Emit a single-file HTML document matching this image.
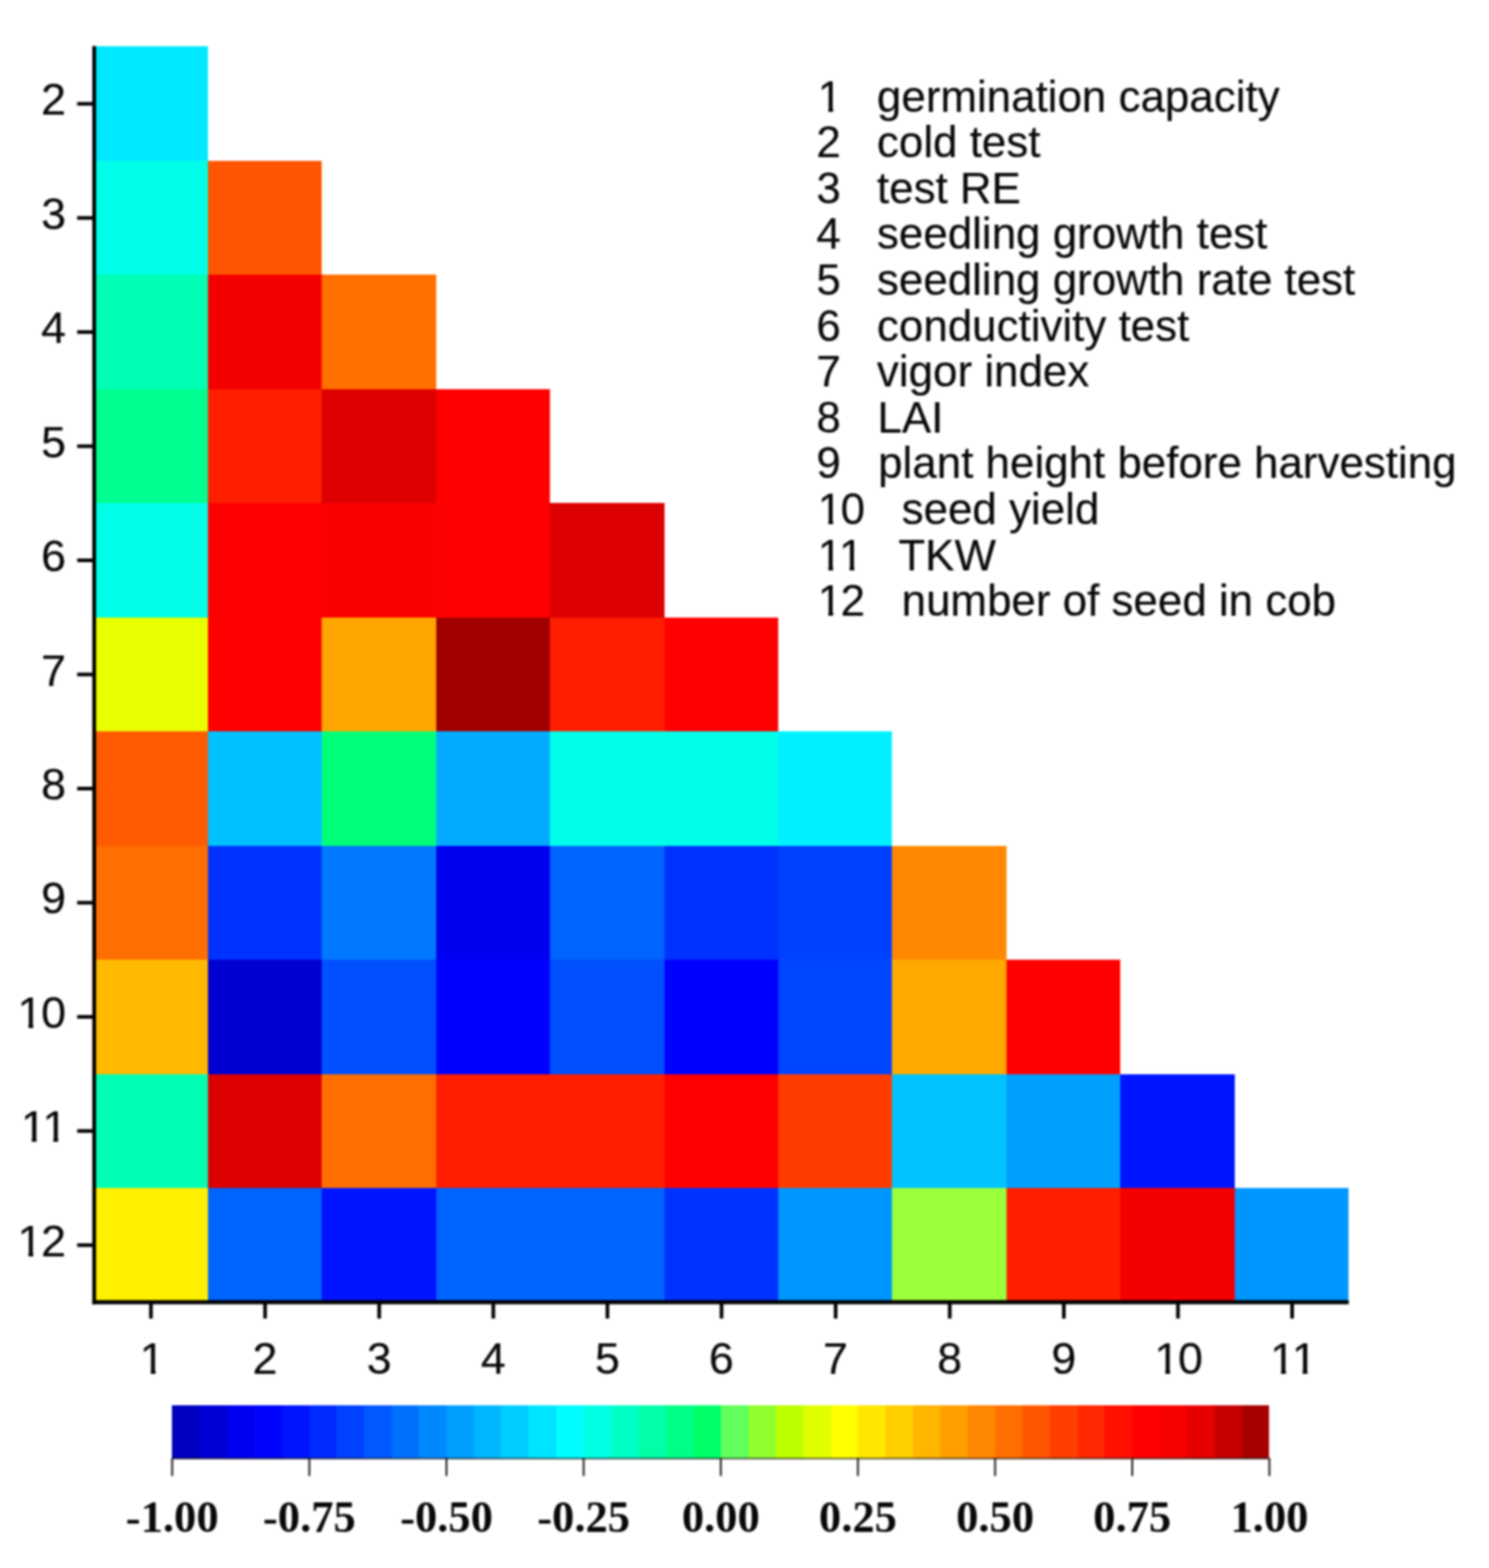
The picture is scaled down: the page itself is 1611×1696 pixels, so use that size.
<!DOCTYPE html>
<html lang="en">
<head>
<meta charset="utf-8">
<title>Correlation heat map</title>
<style>
html,body{margin:0;padding:0;background:#fff;}
body{width:1611px;height:1696px;overflow:hidden;}
svg{display:block;position:absolute;left:0;top:0;filter:blur(1px);}
text{font-family:"Liberation Sans",sans-serif;fill:#080808;stroke:#080808;stroke-width:0.2px;stroke-linejoin:round;}
.t{font-size:48.4px;}
.l{font-size:47.5px;}
.c{font-family:"Liberation Serif",serif;font-weight:bold;font-size:48.2px;stroke-width:0px;}
</style>
</head>
<body>
<svg width="1611" height="1696" viewBox="0 0 1611 1696">
<rect x="0" y="0" width="1611" height="1696" fill="#ffffff"/>
<g shape-rendering="crispEdges">
<rect x="101.2" y="49.8" width="123.46" height="124.8" fill="#00E8FF"/>
<rect x="101.2" y="174" width="124.06" height="124.05" fill="#00FFE8"/>
<rect x="224.66" y="174" width="123.46" height="124.05" fill="#FF5500"/>
<rect x="101.2" y="297.45" width="124.06" height="124.05" fill="#00FFB4"/>
<rect x="224.66" y="297.45" width="124.06" height="124.05" fill="#F50000"/>
<rect x="348.13" y="297.45" width="123.46" height="124.05" fill="#FF7000"/>
<rect x="101.2" y="420.9" width="124.06" height="124.05" fill="#00FF90"/>
<rect x="224.66" y="420.9" width="124.06" height="124.05" fill="#FF1E00"/>
<rect x="348.13" y="420.9" width="124.06" height="124.05" fill="#DC0000"/>
<rect x="471.59" y="420.9" width="123.46" height="124.05" fill="#FF0000"/>
<rect x="101.2" y="544.35" width="124.06" height="124.05" fill="#00FFE8"/>
<rect x="224.66" y="544.35" width="124.06" height="124.05" fill="#FF0000"/>
<rect x="348.13" y="544.35" width="124.06" height="124.05" fill="#FA0000"/>
<rect x="471.59" y="544.35" width="124.06" height="124.05" fill="#FF0000"/>
<rect x="595.05" y="544.35" width="123.46" height="124.05" fill="#DC0000"/>
<rect x="101.2" y="667.8" width="124.06" height="124.05" fill="#E8FF00"/>
<rect x="224.66" y="667.8" width="124.06" height="124.05" fill="#FF0000"/>
<rect x="348.13" y="667.8" width="124.06" height="124.05" fill="#FFA500"/>
<rect x="471.59" y="667.8" width="124.06" height="124.05" fill="#A00000"/>
<rect x="595.05" y="667.8" width="124.06" height="124.05" fill="#FF1E00"/>
<rect x="718.52" y="667.8" width="123.46" height="124.05" fill="#FF0000"/>
<rect x="101.2" y="791.25" width="124.06" height="124.05" fill="#FF5A00"/>
<rect x="224.66" y="791.25" width="124.06" height="124.05" fill="#00C0FF"/>
<rect x="348.13" y="791.25" width="124.06" height="124.05" fill="#00FF78"/>
<rect x="471.59" y="791.25" width="124.06" height="124.05" fill="#00AAFF"/>
<rect x="595.05" y="791.25" width="124.06" height="124.05" fill="#00FFE8"/>
<rect x="718.52" y="791.25" width="124.06" height="124.05" fill="#00FFE8"/>
<rect x="841.98" y="791.25" width="123.46" height="124.05" fill="#00F0FF"/>
<rect x="101.2" y="914.7" width="124.06" height="124.05" fill="#FF6E00"/>
<rect x="224.66" y="914.7" width="124.06" height="124.05" fill="#0032FF"/>
<rect x="348.13" y="914.7" width="124.06" height="124.05" fill="#0078FF"/>
<rect x="471.59" y="914.7" width="124.06" height="124.05" fill="#0000F0"/>
<rect x="595.05" y="914.7" width="124.06" height="124.05" fill="#0064FF"/>
<rect x="718.52" y="914.7" width="124.06" height="124.05" fill="#0032FF"/>
<rect x="841.98" y="914.7" width="124.06" height="124.05" fill="#0040FF"/>
<rect x="965.45" y="914.7" width="123.46" height="124.05" fill="#FF8800"/>
<rect x="101.2" y="1038.15" width="124.06" height="124.05" fill="#FFB900"/>
<rect x="224.66" y="1038.15" width="124.06" height="124.05" fill="#0000D2"/>
<rect x="348.13" y="1038.15" width="124.06" height="124.05" fill="#0050FF"/>
<rect x="471.59" y="1038.15" width="124.06" height="124.05" fill="#0000FF"/>
<rect x="595.05" y="1038.15" width="124.06" height="124.05" fill="#0050FF"/>
<rect x="718.52" y="1038.15" width="124.06" height="124.05" fill="#0000FF"/>
<rect x="841.98" y="1038.15" width="124.06" height="124.05" fill="#0046FF"/>
<rect x="965.45" y="1038.15" width="124.06" height="124.05" fill="#FFA800"/>
<rect x="1088.91" y="1038.15" width="123.46" height="124.05" fill="#FF0000"/>
<rect x="101.2" y="1161.6" width="124.06" height="124.05" fill="#00FFB4"/>
<rect x="224.66" y="1161.6" width="124.06" height="124.05" fill="#DC0000"/>
<rect x="348.13" y="1161.6" width="124.06" height="124.05" fill="#FF6E00"/>
<rect x="471.59" y="1161.6" width="124.06" height="124.05" fill="#FF1E00"/>
<rect x="595.05" y="1161.6" width="124.06" height="124.05" fill="#FF1E00"/>
<rect x="718.52" y="1161.6" width="124.06" height="124.05" fill="#FF0000"/>
<rect x="841.98" y="1161.6" width="124.06" height="124.05" fill="#FF3C00"/>
<rect x="965.45" y="1161.6" width="124.06" height="124.05" fill="#00C3FF"/>
<rect x="1088.91" y="1161.6" width="124.06" height="124.05" fill="#00A0FF"/>
<rect x="1212.37" y="1161.6" width="123.46" height="124.05" fill="#0014FF"/>
<rect x="101.2" y="1285.05" width="124.06" height="123.45" fill="#FFF000"/>
<rect x="224.66" y="1285.05" width="124.06" height="123.45" fill="#0064FF"/>
<rect x="348.13" y="1285.05" width="124.06" height="123.45" fill="#0014FF"/>
<rect x="471.59" y="1285.05" width="124.06" height="123.45" fill="#0064FF"/>
<rect x="595.05" y="1285.05" width="124.06" height="123.45" fill="#0064FF"/>
<rect x="718.52" y="1285.05" width="124.06" height="123.45" fill="#0032FF"/>
<rect x="841.98" y="1285.05" width="124.06" height="123.45" fill="#0096FF"/>
<rect x="965.45" y="1285.05" width="124.06" height="123.45" fill="#9BFF3C"/>
<rect x="1088.91" y="1285.05" width="124.06" height="123.45" fill="#FF1E00"/>
<rect x="1212.37" y="1285.05" width="124.06" height="123.45" fill="#F50000"/>
<rect x="1335.84" y="1285.05" width="123.46" height="123.45" fill="#0096FF"/>
</g>
<g fill="#000000">
<rect x="99.85" y="49.8" width="4.1" height="1360.9"/>
<rect x="99.85" y="1406.3" width="1359.45" height="4.4"/>
<rect x="83.5" y="110.33" width="17.35" height="3.9"/>
<rect x="83.5" y="233.78" width="17.35" height="3.9"/>
<rect x="83.5" y="357.23" width="17.35" height="3.9"/>
<rect x="83.5" y="480.68" width="17.35" height="3.9"/>
<rect x="83.5" y="604.12" width="17.35" height="3.9"/>
<rect x="83.5" y="727.57" width="17.35" height="3.9"/>
<rect x="83.5" y="851.02" width="17.35" height="3.9"/>
<rect x="83.5" y="974.47" width="17.35" height="3.9"/>
<rect x="83.5" y="1097.92" width="17.35" height="3.9"/>
<rect x="83.5" y="1221.38" width="17.35" height="3.9"/>
<rect x="83.5" y="1344.83" width="17.35" height="3.9"/>
<rect x="161.38" y="1409.7" width="3.9" height="16.5"/>
<rect x="284.85" y="1409.7" width="3.9" height="16.5"/>
<rect x="408.31" y="1409.7" width="3.9" height="16.5"/>
<rect x="531.77" y="1409.7" width="3.9" height="16.5"/>
<rect x="655.24" y="1409.7" width="3.9" height="16.5"/>
<rect x="778.7" y="1409.7" width="3.9" height="16.5"/>
<rect x="902.16" y="1409.7" width="3.9" height="16.5"/>
<rect x="1025.63" y="1409.7" width="3.9" height="16.5"/>
<rect x="1149.09" y="1409.7" width="3.9" height="16.5"/>
<rect x="1272.55" y="1409.7" width="3.9" height="16.5"/>
<rect x="1396.02" y="1409.7" width="3.9" height="16.5"/>
</g>
<text class="t" x="44.38" y="124.28">2</text>
<text class="t" x="44.38" y="247.73">3</text>
<text class="t" x="44.38" y="371.18">4</text>
<text class="t" x="44.38" y="494.62">5</text>
<text class="t" x="44.38" y="618.07">6</text>
<text class="t" x="44.38" y="741.52">7</text>
<text class="t" x="44.38" y="864.98">8</text>
<text class="t" x="44.38" y="988.42">9</text>
<text class="t" x="17.46" y="1111.88" dx="1.6 -1.6">10</text>
<rect x="21.24" y="1107.36" width="9.54" height="6.02" fill="#ffffff"/>
<rect x="35.96" y="1107.36" width="8.76" height="6.02" fill="#ffffff"/>
<text class="t" x="21.06" y="1235.33" dx="1.6 0">11</text>
<rect x="24.83" y="1230.81" width="9.54" height="6.02" fill="#ffffff"/>
<rect x="39.55" y="1230.81" width="8.76" height="6.02" fill="#ffffff"/>
<rect x="48.16" y="1230.81" width="9.54" height="6.02" fill="#ffffff"/>
<rect x="62.88" y="1230.81" width="8.76" height="6.02" fill="#ffffff"/>
<text class="t" x="17.46" y="1358.78" dx="1.6 -1.6">12</text>
<rect x="21.24" y="1354.26" width="9.54" height="6.02" fill="#ffffff"/>
<rect x="35.96" y="1354.26" width="8.76" height="6.02" fill="#ffffff"/>
<text class="t" x="149.77" y="1486.3" dx="1.6">1</text>
<rect x="153.55" y="1481.78" width="9.54" height="6.02" fill="#ffffff"/>
<rect x="168.27" y="1481.78" width="8.76" height="6.02" fill="#ffffff"/>
<text class="t" x="273.24" y="1486.3">2</text>
<text class="t" x="396.7" y="1486.3">3</text>
<text class="t" x="520.16" y="1486.3">4</text>
<text class="t" x="643.63" y="1486.3">5</text>
<text class="t" x="767.09" y="1486.3">6</text>
<text class="t" x="890.55" y="1486.3">7</text>
<text class="t" x="1014.02" y="1486.3">8</text>
<text class="t" x="1137.48" y="1486.3">9</text>
<text class="t" x="1247.49" y="1486.3" dx="1.6 -1.6">10</text>
<rect x="1251.26" y="1481.78" width="9.54" height="6.02" fill="#ffffff"/>
<rect x="1265.98" y="1481.78" width="8.76" height="6.02" fill="#ffffff"/>
<text class="t" x="1372.75" y="1486.3" dx="1.6 0">11</text>
<rect x="1376.52" y="1481.78" width="9.54" height="6.02" fill="#ffffff"/>
<rect x="1391.24" y="1481.78" width="8.76" height="6.02" fill="#ffffff"/>
<rect x="1399.85" y="1481.78" width="9.54" height="6.02" fill="#ffffff"/>
<rect x="1414.57" y="1481.78" width="8.76" height="6.02" fill="#ffffff"/>
<text class="l" x="883.2" y="120.5" dx="1.57">1</text>
<rect x="886.91" y="116.05" width="9.36" height="5.95" fill="#ffffff"/>
<rect x="901.36" y="116.05" width="8.58" height="5.95" fill="#ffffff"/>
<text class="l" x="948.8" y="120.5">germination capacity</text>
<text class="l" x="883.2" y="170.1">2</text>
<text class="l" x="948.8" y="170.1">cold test</text>
<text class="l" x="883.2" y="219.7">3</text>
<text class="l" x="948.8" y="219.7">test RE</text>
<text class="l" x="883.2" y="269.3">4</text>
<text class="l" x="948.8" y="269.3">seedling growth test</text>
<text class="l" x="883.2" y="318.9">5</text>
<text class="l" x="948.8" y="318.9">seedling growth rate test</text>
<text class="l" x="883.2" y="368.5">6</text>
<text class="l" x="948.8" y="368.5">conductivity test</text>
<text class="l" x="883.2" y="418.1">7</text>
<text class="l" x="948.8" y="418.1">vigor index</text>
<text class="l" x="883.2" y="467.7">8</text>
<text class="l" x="949.3" y="467.7">LAI</text>
<text class="l" x="883.2" y="517.3">9</text>
<text class="l" x="950.1" y="517.3">plant height before harvesting</text>
<text class="l" x="883.2" y="566.9" dx="1.57 -1.57">10</text>
<rect x="886.91" y="562.45" width="9.36" height="5.95" fill="#ffffff"/>
<rect x="901.36" y="562.45" width="8.58" height="5.95" fill="#ffffff"/>
<text class="l" x="975.5" y="566.9">seed yield</text>
<text class="l" x="883.2" y="616.5" dx="1.57 0">11</text>
<rect x="886.91" y="612.05" width="9.36" height="5.95" fill="#ffffff"/>
<rect x="901.36" y="612.05" width="8.58" height="5.95" fill="#ffffff"/>
<rect x="909.8" y="612.05" width="9.36" height="5.95" fill="#ffffff"/>
<rect x="924.25" y="612.05" width="8.58" height="5.95" fill="#ffffff"/>
<text class="l" x="972" y="616.5">TKW</text>
<text class="l" x="883.2" y="666.1" dx="1.57 -1.57">12</text>
<rect x="886.91" y="661.65" width="9.36" height="5.95" fill="#ffffff"/>
<rect x="901.36" y="661.65" width="8.58" height="5.95" fill="#ffffff"/>
<text class="l" x="975.5" y="666.1">number of seed in cob</text>
<g shape-rendering="crispEdges">
<rect x="186.3" y="1519.6" width="30.28" height="58.4" fill="#0000BE"/>
<rect x="215.98" y="1519.6" width="30.28" height="58.4" fill="#0000D7"/>
<rect x="245.66" y="1519.6" width="30.28" height="58.4" fill="#0000F0"/>
<rect x="275.33" y="1519.6" width="30.28" height="58.4" fill="#0004FE"/>
<rect x="305.01" y="1519.6" width="30.28" height="58.4" fill="#0014FF"/>
<rect x="334.69" y="1519.6" width="30.28" height="58.4" fill="#002BFF"/>
<rect x="364.37" y="1519.6" width="30.28" height="58.4" fill="#0042FF"/>
<rect x="394.04" y="1519.6" width="30.28" height="58.4" fill="#005AFF"/>
<rect x="423.72" y="1519.6" width="30.28" height="58.4" fill="#0071FF"/>
<rect x="453.4" y="1519.6" width="30.28" height="58.4" fill="#0088FF"/>
<rect x="483.08" y="1519.6" width="30.28" height="58.4" fill="#009FFF"/>
<rect x="512.75" y="1519.6" width="30.28" height="58.4" fill="#00B7FF"/>
<rect x="542.43" y="1519.6" width="30.28" height="58.4" fill="#00CEFF"/>
<rect x="572.11" y="1519.6" width="30.28" height="58.4" fill="#00E5FF"/>
<rect x="601.79" y="1519.6" width="30.28" height="58.4" fill="#00FDFF"/>
<rect x="631.46" y="1519.6" width="30.28" height="58.4" fill="#00FFE3"/>
<rect x="661.14" y="1519.6" width="30.28" height="58.4" fill="#00FFC5"/>
<rect x="690.82" y="1519.6" width="30.28" height="58.4" fill="#00FFA6"/>
<rect x="720.5" y="1519.6" width="30.28" height="58.4" fill="#00FF88"/>
<rect x="750.17" y="1519.6" width="30.28" height="58.4" fill="#00FF69"/>
<rect x="779.85" y="1519.6" width="30.28" height="58.4" fill="#62FF5C"/>
<rect x="809.53" y="1519.6" width="30.28" height="58.4" fill="#90FF2E"/>
<rect x="839.21" y="1519.6" width="30.28" height="58.4" fill="#BEFF00"/>
<rect x="868.88" y="1519.6" width="30.28" height="58.4" fill="#DFFF00"/>
<rect x="898.56" y="1519.6" width="30.28" height="58.4" fill="#FFFF00"/>
<rect x="928.24" y="1519.6" width="30.28" height="58.4" fill="#FFE700"/>
<rect x="957.91" y="1519.6" width="30.28" height="58.4" fill="#FFCF00"/>
<rect x="987.59" y="1519.6" width="30.28" height="58.4" fill="#FFB600"/>
<rect x="1017.27" y="1519.6" width="30.28" height="58.4" fill="#FF9E00"/>
<rect x="1046.95" y="1519.6" width="30.28" height="58.4" fill="#FF8600"/>
<rect x="1076.62" y="1519.6" width="30.28" height="58.4" fill="#FF6E00"/>
<rect x="1106.3" y="1519.6" width="30.28" height="58.4" fill="#FF5700"/>
<rect x="1135.98" y="1519.6" width="30.28" height="58.4" fill="#FF3F00"/>
<rect x="1165.66" y="1519.6" width="30.28" height="58.4" fill="#FF2800"/>
<rect x="1195.34" y="1519.6" width="30.28" height="58.4" fill="#FF1000"/>
<rect x="1225.01" y="1519.6" width="30.28" height="58.4" fill="#FE0000"/>
<rect x="1254.69" y="1519.6" width="30.28" height="58.4" fill="#F80000"/>
<rect x="1284.37" y="1519.6" width="30.28" height="58.4" fill="#E60000"/>
<rect x="1314.05" y="1519.6" width="30.28" height="58.4" fill="#C60000"/>
<rect x="1343.72" y="1519.6" width="29.68" height="58.4" fill="#A60000"/>
</g>
<g fill="#1a1a1a">
<rect x="186.3" y="1576.8" width="1187.1" height="1.6" fill-opacity="0.75"/>
<rect x="185.3" y="1577" width="2" height="19.5"/>
<rect x="333.69" y="1577" width="2" height="19.5"/>
<rect x="482.08" y="1577" width="2" height="19.5"/>
<rect x="630.46" y="1577" width="2" height="19.5"/>
<rect x="778.85" y="1577" width="2" height="19.5"/>
<rect x="927.24" y="1577" width="2" height="19.5"/>
<rect x="1075.62" y="1577" width="2" height="19.5"/>
<rect x="1224.01" y="1577" width="2" height="19.5"/>
<rect x="1372.4" y="1577" width="2" height="19.5"/>
</g>
<text class="c" x="186.3" y="1657" text-anchor="middle">-1.00</text>
<text class="c" x="334.69" y="1657" text-anchor="middle">-0.75</text>
<text class="c" x="483.08" y="1657" text-anchor="middle">-0.50</text>
<text class="c" x="631.46" y="1657" text-anchor="middle">-0.25</text>
<text class="c" x="779.85" y="1657" text-anchor="middle">0.00</text>
<text class="c" x="928.24" y="1657" text-anchor="middle">0.25</text>
<text class="c" x="1076.62" y="1657" text-anchor="middle">0.50</text>
<text class="c" x="1225.01" y="1657" text-anchor="middle">0.75</text>
<text class="c" x="1373.4" y="1657" text-anchor="middle">1.00</text>
</svg>
</body>
</html>
